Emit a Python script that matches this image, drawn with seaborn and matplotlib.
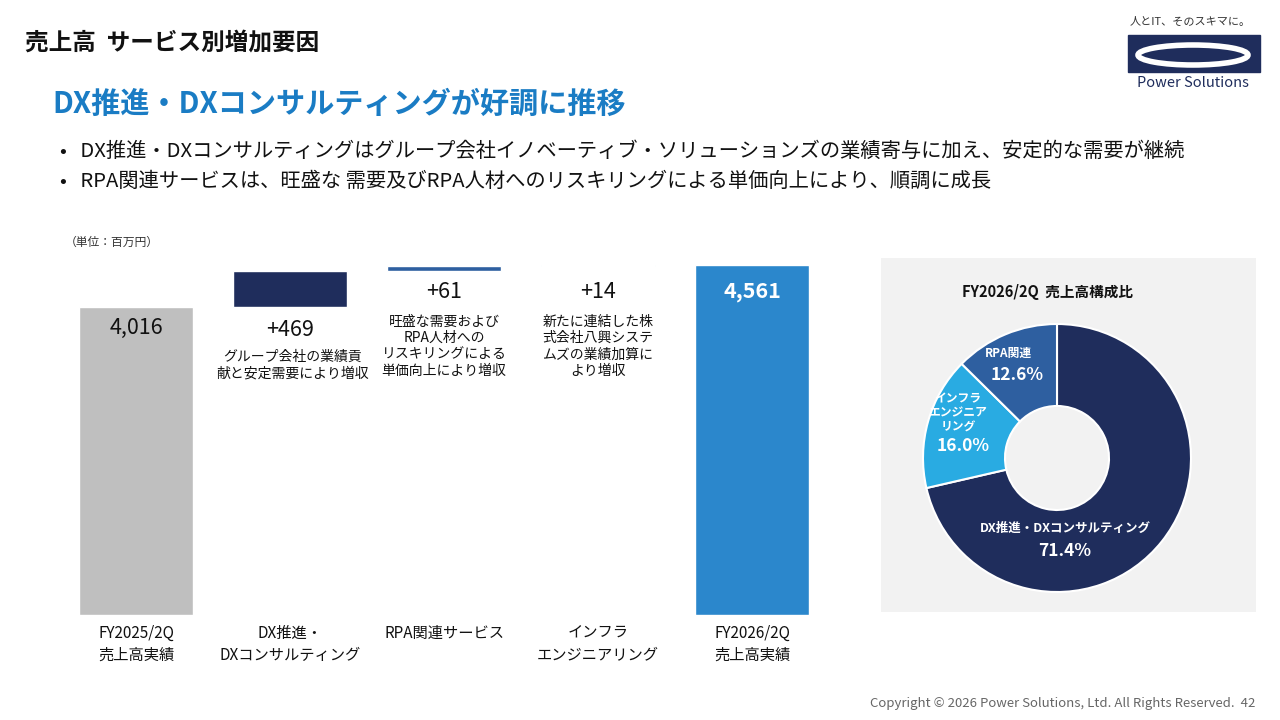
import matplotlib
matplotlib.use("Agg")
import matplotlib.pyplot as plt
import seaborn as sns
import pandas as pd
from matplotlib.patches import Rectangle, Ellipse

sns.set_theme(style="white")
plt.rcParams['font.family'] = ['Noto Sans CJK JP', 'DejaVu Sans']

categories = ["FY2025/2Q\n売上高実績", "DX推進・\nDXコンサルティング", "RPA関連サービス", "インフラ\nエンジニアリング", "FY2026/2Q\n売上高実績"]
values = [4016, 469, 61, 14, 4561]
value_labels = ["4,016", "+469", "+61", "+14", "4,561"]
notes = ["", "グループ会社の業績貢\n献と安定需要により増収", "旺盛な需要および\nRPA人材への\nリスキリングによる\n単価向上により増収", "新たに連結した株\n式会社八興システ\nムズの業績加算に\nより増収", ""]
bar_colors = ["#BFBFBF", "#1F2D5C", "#2E5FA0", "#29ABE2", "#2B87CC"]

pie_labels = ["DX推進・DXコンサルティング", "インフラ\nエンジニア\nリング", "RPA関連"]
pie_values = [71.4, 16.0, 12.6]
pie_colors = ["#1F2D5C", "#29ABE2", "#2E5FA0"]

fig = plt.figure(figsize=(12.8, 7.2), dpi=100)
W, H = 1280, 720
def fx(x): return x / W
def fy(y): return 1 - y / H

fig.text(fx(25), fy(42), "売上高  サービス別増加要因", fontsize=17, fontweight="bold", va="center", color="#111")
fig.text(fx(52), fy(104), "DX推進・DXコンサルティングが好調に推移", fontsize=21, fontweight="bold", va="center", color="#1A7CC4")
fig.text(fx(60), fy(151), "•   DX推進・DXコンサルティングはグループ会社イノベーティブ・ソリューションズの業績寄与に加え、安定的な需要が継続", fontsize=14.6, va="center", color="#111")
fig.text(fx(60), fy(181), "•   RPA関連サービスは、旺盛な 需要及びRPA人材へのリスキリングによる単価向上により、順調に成長", fontsize=14.6, va="center", color="#111")
fig.text(fx(65), fy(242), "（単位：百万円）", fontsize=8.5, va="center", color="#333")
fig.text(fx(1255), fy(704), "Copyright © 2026 Power Solutions, Ltd. All Rights Reserved.  42", fontsize=9.5, ha="right", va="center", color="#666")
# logo
fig.text(fx(1190), fy(22), "人とIT、そのスキマに。", fontsize=8, ha="center", va="center", color="#333")
fig.patches.append(Rectangle((fx(1128), fy(72)), fx(132), fy(35)-fy(72), transform=fig.transFigure, color="#1F2D5C"))
fig.patches.append(Ellipse((fx(1193), fy(55)), fx(110), fy(40)-fy(60), transform=fig.transFigure, facecolor="none", edgecolor="white", lw=4))
fig.text(fx(1193), fy(83), "Power Solutions", fontsize=10.5, ha="center", va="center", color="#1F2D5C")

# pie panel background
bg = fig.add_axes([fx(881), fy(612), fx(375), fy(258)-fy(612)], zorder=-1)
bg.set_facecolor("#F2F2F2")
bg.set_xticks([]); bg.set_yticks([])
for s in bg.spines.values(): s.set_visible(False)

# waterfall
ax = fig.add_axes([fx(59), fy(615), fx(829)-fx(59), fy(265)-fy(615)])
bottoms = [0, values[0], values[0]+values[1], values[0]+values[1]+values[2], 0]
df = pd.DataFrame({"cat": categories, "val": values, "bottom": bottoms})
sns.barplot(data=df, x="cat", y="val", ax=ax, width=0.74, palette=bar_colors, hue="cat", legend=False, saturation=1)
for p, b in zip(ax.patches, bottoms):
    p.set_y(b)
ax.set_xlim(-0.5, 4.5)
ax.set_ylim(0, 4561)
ax.axis("off")
top_y = [328, 330, 292, 292, 292]
for i, lab in enumerate(value_labels):
    col = "white" if i == 4 else "#111"
    fig.text(fx(136 + 154*i), fy(top_y[i]), lab, fontsize=15.5, ha="center", va="center", color=col, fontweight="bold" if i == 4 else "normal")
    if notes[i]:
        ny = 350 if i == 1 else 315
        fig.text(fx(136 + 154*i + (3 if i==1 else 0)), fy(ny), notes[i], fontsize=10, ha="center", va="top", color="#111", linespacing=1.2)
    fig.text(fx(136 + 154*i), fy(625), categories[i], fontsize=11, ha="center", va="top", color="#111", linespacing=1.35)

fig.text(fx(1047), fy(292), "FY2026/2Q  売上高構成比", fontsize=10.5, fontweight="bold", ha="center", va="center", color="#111")
pax = fig.add_axes([fx(1057-134), fy(458+134), fx(268), fy(458-134)-fy(458+134)])
pax.pie(pie_values, colors=pie_colors, startangle=90, counterclock=False,
        wedgeprops=dict(width=82/134, edgecolor="white", linewidth=1.5))
pax.set_xlim(-1, 1); pax.set_ylim(-1, 1)
pax.set_aspect("equal")
pax.axis("off")
fig.text(fx(1065), fy(528), pie_labels[0], fontsize=9, fontweight="bold", color="white", ha="center", va="center")
fig.text(fx(1065), fy(551), f"{pie_values[0]}%", fontsize=12.5, fontweight="bold", color="white", ha="center", va="center")
fig.text(fx(958), fy(413), pie_labels[1], fontsize=8.5, fontweight="bold", color="white", ha="center", va="center", linespacing=1.1)
fig.text(fx(963), fy(446), f"{pie_values[1]}%", fontsize=12.5, fontweight="bold", color="white", ha="center", va="center")
fig.text(fx(1008), fy(353), pie_labels[2], fontsize=8.5, fontweight="bold", color="white", ha="center", va="center")
fig.text(fx(1017), fy(375), f"{pie_values[2]}%", fontsize=12.5, fontweight="bold", color="white", ha="center", va="center")

fig.savefig("out.png", dpi=100)
